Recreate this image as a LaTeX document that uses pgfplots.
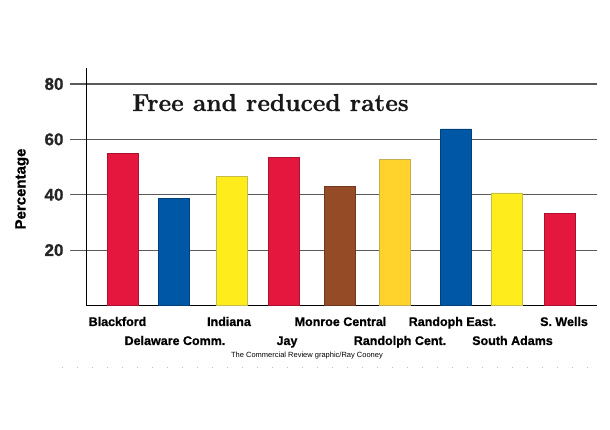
\documentclass[border=0pt]{standalone}
\usepackage{pgfplots}
\pgfplotsset{compat=1.18}
\usepackage{fontspec}
\newfontfamily\labelfont{Liberation Sans}[BoldFeatures={FakeBold=0.8}]
\newfontfamily\titlefont{Latin Modern Roman}[BoldFeatures={FakeBold=0.8}]
\definecolor{cred}{HTML}{E5173F}
\definecolor{cblue}{HTML}{0057A5}
\definecolor{cyellow}{HTML}{FFEC1C}
\definecolor{cbrown}{HTML}{954B25}
\definecolor{cgold}{HTML}{FFD22C}
\definecolor{gridgray}{HTML}{5A5A5A}
\begin{document}
\begin{tikzpicture}[x=1pt,y=1pt]
\path[use as bounding box] (0,0) rectangle (610,430);
\begin{axis}[
  at={(86pt,124.5pt)}, anchor=origin,
  scale only axis, width=511pt, height=237pt,
  xmin=86, xmax=597, ymin=0, ymax=85.6,
  axis x line=bottom, axis y line=left,
  axis line style={-, black, line width=1pt},
  xtick=\empty,
  ytick={20,40,60,80},
  ymajorgrids, grid style={gridgray, line width=1.1pt},
  tick align=outside, major tick length=16pt,
  tick style={gridgray, line width=1.1pt},
  /pgf/number format/assume math mode=true,
  yticklabel style={font=\labelfont\bfseries\fontsize{17}{17}\selectfont, text=black!85, xshift=-3pt},
  clip=false,
]
\addplot[ybar, bar shift=0pt, bar width=31, fill=cred, draw=cred!75!black, line width=0.6pt]
  coordinates {(123,55) (284,53.6) (560,33.2)};
\addplot[ybar, bar shift=0pt, bar width=31, fill=cblue, draw=cblue!75!black, line width=0.6pt]
  coordinates {(174,38.6) (456,63.8)};
\addplot[ybar, bar shift=0pt, bar width=31, fill=cyellow, draw=cyellow!55!gray, line width=0.6pt]
  coordinates {(232,46.6) (507,40.7)};
\addplot[ybar, bar shift=0pt, bar width=31, fill=cbrown, draw=cbrown!75!black, line width=0.6pt]
  coordinates {(340,43.1)};
\addplot[ybar, bar shift=0pt, bar width=31, fill=cgold, draw=cgold!55!gray, line width=0.6pt]
  coordinates {(395,52.7)};
\end{axis}
% title
\node[anchor=base, font=\titlefont\bfseries\fontsize{24.5}{24.5}\selectfont, text=black!90] at (270.5,319) {Free and reduced rates};
% y label
\node[rotate=90, font=\labelfont\bfseries\fontsize{15}{15}\selectfont] at (22,241) {Percentage};
% category labels
\begin{scope}[every node/.style={anchor=base, font=\labelfont\bfseries\fontsize{12.5}{12.5}\selectfont}]
\node at (117.5,104) {Blackford};
\node at (229,104) {Indiana};
\node at (340.5,104) {Monroe Central};
\node at (452.5,104) {Randoph East.};
\node at (564,104) {S. Wells};
\node at (175,85) {Delaware Comm.};
\node at (287,85) {Jay};
\node at (400,85) {Randolph Cent.};
\node at (512.5,85) {South Adams};
\end{scope}
\node[anchor=base, font=\labelfont\fontsize{7.5}{7.5}\selectfont] at (307,72) {The Commercial Review graphic/Ray Cooney};
\draw[black!25, line width=0.8pt, dash pattern=on 1pt off 14pt] (62,63) -- (590,63);
\end{tikzpicture}
\end{document}
